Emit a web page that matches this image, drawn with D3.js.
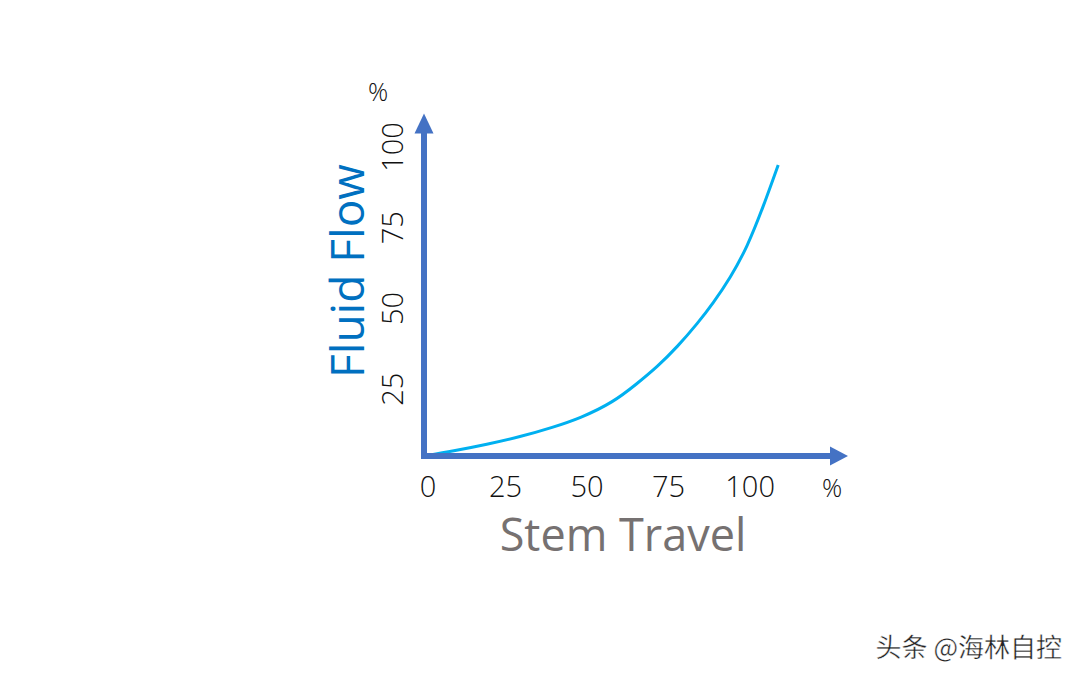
<!DOCTYPE html>
<html>
<head>
<meta charset="utf-8">
<script src="https://cdn.jsdelivr.net/npm/d3@7"></script>
<style>
  html, body { margin: 0; padding: 0; background: #fff; }
  svg { display: block; }
</style>
</head>
<body>
<svg id="chart" width="1080" height="681"></svg>
<script>
// ---- data ----
const stemTravel = [0, 8.9, 19.3, 29.4, 39.6, 47.9, 58.0, 65.3, 71.5, 77.6, 84.0, 88.7, 93.9, 99.1, 104.0, 108.6];
const fluidFlow  = [0, 1.5, 3.6, 5.9, 8.9, 11.7, 16.6, 22.4, 27.6, 33.7, 41.2, 47.4, 55.1, 64.7, 77.1, 90.1];
const xTicks = [0, 25, 50, 75, 100];
const yTicks = [25, 50, 75, 100];
const xTitle = "Stem Travel";
const yTitle = "Fluid Flow";
const unitLabel = "%";
const watermark = "头条 @海林自控";

// ---- scales ----
const svg = d3.select("#chart");
const x = d3.scaleLinear().domain([0, 130]).range([424, 848]);
const y = d3.scaleLinear().domain([0, 100]).range([456, 133]);
const axisColor = "#4472C4";
const latinFont = "'Open Sans', 'Noto Sans', sans-serif";

// ---- curve ----
const pts = stemTravel.map((v, i) => [v, fluidFlow[i]]);
svg.append("path")
  .datum(pts)
  .attr("fill", "none")
  .attr("stroke", "#00B0F0")
  .attr("stroke-width", 3)
  .attr("d", d3.line().x(d => x(d[0])).y(d => y(d[1])).curve(d3.curveBasis));

// ---- axes with arrowheads ----
const x0 = x(0), y0 = y(0);
const xTip = x(130), yTip = y(106);
svg.append("line")
  .attr("x1", x0 - 3).attr("y1", y0).attr("x2", xTip - 14).attr("y2", y0)
  .attr("stroke", axisColor).attr("stroke-width", 6);
svg.append("path")
  .attr("d", `M${xTip},${y0} L${xTip - 18},${y0 - 9.5} L${xTip - 18},${y0 + 9.5} Z`)
  .attr("fill", axisColor);
svg.append("line")
  .attr("x1", x0).attr("y1", y0 + 3).attr("x2", x0).attr("y2", yTip + 14)
  .attr("stroke", axisColor).attr("stroke-width", 6);
svg.append("path")
  .attr("d", `M${x0},${yTip} L${x0 - 9.5},${yTip + 20} L${x0 + 9.5},${yTip + 20} Z`)
  .attr("fill", axisColor);

// ---- tick labels ----
svg.append("g").selectAll("text")
  .data(xTicks).join("text")
  .attr("x", d => x(d))
  .attr("dx", d => d === 0 ? 4 : 0)
  .attr("y", 497)
  .attr("text-anchor", "middle")
  .attr("font-family", latinFont)
  .attr("font-weight", 300)
  .attr("font-size", 29)
  .attr("fill", "#111")
  .text(d => d);

svg.append("text")
  .attr("x", 832).attr("y", 497)
  .attr("text-anchor", "middle")
  .attr("font-family", latinFont).attr("font-weight", 300)
  .attr("font-size", 25).attr("fill", "#111")
  .text(unitLabel);

svg.append("g").selectAll("text")
  .data(yTicks).join("text")
  .attr("transform", d => `translate(403,${y(d) + 14}) rotate(-90)`)
  .attr("text-anchor", "middle")
  .attr("font-family", latinFont)
  .attr("font-weight", 300)
  .attr("font-size", 29)
  .attr("fill", "#111")
  .text(d => d);

svg.append("text")
  .attr("x", 378).attr("y", 101)
  .attr("text-anchor", "middle")
  .attr("font-family", latinFont).attr("font-weight", 300)
  .attr("font-size", 25).attr("fill", "#111")
  .text(unitLabel);

// ---- titles ----
svg.append("text")
  .attr("x", 623).attr("y", 551)
  .attr("text-anchor", "middle")
  .attr("font-family", latinFont)
  .attr("font-size", 45)
  .attr("fill", "#767171")
  .text(xTitle);

svg.append("text")
  .attr("transform", "translate(364,271) rotate(-90)")
  .attr("text-anchor", "middle")
  .attr("font-family", latinFont)
  .attr("font-size", 46)
  .attr("fill", "#0070C0")
  .text(yTitle);

// ---- watermark ----
svg.append("text")
  .attr("x", 1062).attr("y", 657)
  .attr("text-anchor", "end")
  .attr("font-family", "'Noto Sans CJK SC', sans-serif")
  .attr("font-size", 26)
  .attr("fill", "#222")
  .attr("stroke", "#fff").attr("stroke-width", 0.4)
  .text(watermark);
</script>
</body>
</html>
